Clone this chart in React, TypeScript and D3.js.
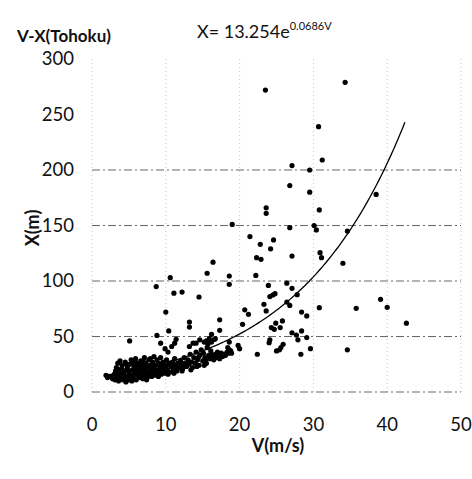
import React from 'react';
import * as d3 from 'd3';

// chart texts
const title = 'V-X(Tohoku)';
const xLabel = 'V(m/s)';
const yLabel = 'X(m)';
const xTicks = [0, 10, 20, 30, 40, 50];
const yTicks = [0, 50, 100, 150, 200, 250, 300];
const yGrid = [0, 50, 100, 150, 200];

// fit X = a * e^(bV)
const fitA = 13.254;
const fitB = 0.0686;
const fitRange = [1.9, 42.5];

// dense low-speed cluster [V, X]
const clusterPoints = [
  [1.9, 15], [2.1, 13], [2.4, 14], [2.8, 12], [3.0, 16], [3.1, 11], [3.2, 19], [3.3, 22], [3.4, 14], [3.5, 26],
  [3.6, 10], [3.7, 17], [3.8, 28], [3.9, 13], [4.0, 21], [4.1, 24], [4.2, 11], [4.3, 16], [4.4, 19], [4.5, 27],
  [4.6, 9], [4.7, 14], [4.8, 22], [4.9, 12], [5.0, 18], [5.1, 25], [5.2, 15], [5.3, 29], [5.4, 10], [5.5, 20],
  [5.6, 13], [5.7, 23], [5.8, 17], [5.9, 30], [6.0, 11], [6.1, 26], [6.2, 15], [6.3, 19], [6.4, 22], [6.5, 13],
  [6.6, 28], [6.7, 17], [6.8, 24], [6.9, 12], [7.0, 20], [7.1, 31], [7.2, 15], [7.3, 26], [7.4, 18], [7.5, 13],
  [7.6, 22], [7.7, 29], [7.8, 16], [7.9, 24], [8.0, 19], [8.1, 14], [8.2, 27], [8.3, 21], [8.4, 32], [8.5, 17],
  [8.6, 24], [8.7, 15], [8.8, 29], [8.9, 20], [9.0, 26], [9.1, 18], [9.2, 23], [9.3, 31], [9.4, 16], [9.5, 21],
  [9.6, 27], [9.7, 19], [9.8, 24], [9.9, 17], [10.0, 22], [10.1, 29], [10.2, 20], [10.4, 25], [10.5, 18], [10.7, 23],
  [10.9, 27], [11.0, 21], [11.2, 30], [11.3, 24], [11.5, 19], [11.6, 26], [11.8, 22], [12.0, 28], [12.1, 24], [12.3, 21],
  [12.5, 31], [12.6, 26], [12.8, 23], [13.0, 29], [13.1, 25], [13.3, 34], [13.5, 27], [13.6, 22], [13.8, 31], [14.0, 26],
  [14.1, 36], [14.3, 29], [14.5, 24], [14.6, 33], [14.8, 38], [15.0, 28], [15.1, 35], [15.3, 31], [15.5, 26], [15.6, 40],
  [15.8, 33], [16.0, 30], [16.1, 37], [16.3, 32], [16.5, 29], [16.7, 34], [16.9, 31], [17.1, 33], [17.3, 30], [17.5, 35],
  [17.7, 32], [17.9, 34], [18.1, 33], [18.3, 36], [18.5, 35], [18.8, 37], [3.3, 12], [3.9, 17], [4.4, 13], [5.0, 11],
  [5.6, 16], [6.2, 21], [6.8, 14], [7.4, 11], [8.0, 23], [4.7, 25], [5.5, 27], [6.3, 25], [7.0, 27], [7.9, 30],
  [4.2, 19], [5.8, 20], [6.6, 18], [9.0, 14], [10.3, 16], [11.1, 17], [12.2, 19], [13.4, 20], [14.2, 23], [15.2, 24],
  [3.6, 20], [4.0, 15], [4.9, 20], [5.3, 13], [6.0, 23], [6.4, 16], [7.2, 23], [7.6, 17], [8.3, 25], [8.6, 19],
  [9.3, 25], [9.8, 20], [10.6, 26], [11.4, 22], [12.4, 25], [13.2, 27], [14.4, 31], [15.4, 29], [16.2, 34], [17.0, 36],
];

// scattered points [V, X]
const scatterPoints = [
  [23.5, 272], [34.3, 279], [30.7, 239], [31.2, 209], [27.1, 204], [29.5, 200], [26.8, 186], [29.5, 180], [38.5, 178],
  [23.6, 166], [23.6, 161], [30.8, 164], [19.0, 151], [26.8, 148], [30.1, 150], [30.4, 146], [34.6, 145], [21.4, 140],
  [24.6, 137], [22.8, 133], [24.2, 129], [30.9, 125.5], [31.1, 121], [22.3, 121], [22.9, 119.5], [27.1, 122.5],
  [34.0, 116], [16.4, 117], [15.6, 107], [22.2, 105], [18.6, 104.5], [10.6, 103], [26.4, 98], [18.6, 97], [23.9, 96],
  [8.7, 95], [27.1, 93.4], [12.2, 90], [11.1, 89], [24.8, 88.6], [24.5, 87.4], [24.1, 86], [27.8, 87.7], [14.5, 85.6],
  [39.1, 83.5], [26.4, 81], [23.3, 79], [26.8, 78], [30.8, 76], [40.0, 76.3], [35.8, 75.4], [20.7, 74], [23.6, 73],
  [28.4, 72], [10.0, 72], [21.2, 70], [29.1, 68.5], [17.3, 65], [25.8, 64], [13.2, 63], [42.6, 62], [24.9, 62],
  [20.4, 61], [13.2, 58.5], [24.3, 58], [25.5, 58], [24.7, 56.5], [17.3, 55.6], [10.4, 55], [28.4, 55], [27.1, 53.4],
  [8.8, 51], [27.7, 51.3], [16.2, 52], [29.1, 49], [16.7, 48], [5.1, 46], [27.9, 47], [24.1, 47], [24.0, 44.4],
  [25.9, 43], [25.6, 40], [25.4, 38], [25.0, 37], [29.6, 39], [34.6, 38], [28.3, 34], [22.4, 34], [19.8, 42],
  [20.0, 39], [9.3, 44], [11.4, 47.5], [11.2, 44], [10.8, 41], [14.6, 47], [14.1, 44], [15.2, 45], [15.7, 43],
  [9.9, 39], [10.3, 36], [13.2, 41], [13.7, 44], [15.5, 46], [15.9, 48], [16.2, 45], [18.4, 40], [18.6, 45],
  [18.6, 38], [18.9, 35], [16.6, 47.5],
];

const W = 472;
const H = 479;
const font = 'Lato, "Open Sans", sans-serif';

export default function App() {
  const x = d3.scaleLinear().domain([0, 50]).range([92, 461]);
  const y = d3.scaleLinear().domain([0, 300]).range([392, 59]);

  const fitData = d3.range(fitRange[0], fitRange[1] + 0.01, 0.25).map(v => [v, fitA * Math.exp(fitB * v)]);
  const fitLine = d3.line<number[]>().x(d => x(d[0])).y(d => y(d[1])).curve(d3.curveMonotoneX)(fitData);

  const allPoints = clusterPoints.concat(scatterPoints);

  return (
    <svg width={W} height={H} style={{ position: 'absolute', left: 0, top: 0, background: '#fff' }}>
      {/* vertical light grid */}
      {xTicks.map(t => (
        <line key={'vx' + t} x1={x(t)} x2={x(t)} y1={y(300)} y2={y(0)}
          stroke="#bbb" strokeWidth={0.8} strokeDasharray="1,3" />
      ))}
      {/* horizontal dash-dot grid */}
      {yGrid.map(t => (
        <line key={'hy' + t} x1={x(0)} x2={x(50)} y1={y(t)} y2={y(t)}
          stroke="#666" strokeWidth={1} strokeDasharray="8,3,2,3" />
      ))}

      {/* tick labels */}
      {yTicks.map(t => (
        <text key={'yt' + t} x={74} y={y(t)} dy="0.35em" textAnchor="end"
          fontFamily={font} fontSize={18.5} fill="#111">{t}</text>
      ))}
      {xTicks.map(t => (
        <text key={'xt' + t} x={x(t)} y={425} dy="0.35em" textAnchor="middle"
          fontFamily={font} fontSize={18.5} fill="#111">{t}</text>
      ))}

      {/* axis titles */}
      <text x={278} y={446} dy="0.35em" textAnchor="middle" fontFamily={font} fontSize={18} fontWeight="bold" fill="#111">{xLabel}</text>
      <text transform={`translate(33,228) rotate(-90)`} dy="0.35em" textAnchor="middle" fontFamily={font} fontSize={18} fontWeight="bold" fill="#111">{yLabel}</text>

      {/* titles */}
      <text x={17} y={42} fontFamily={font} fontSize={17} fontWeight="bold" fill="#111">{title}</text>
      <text x={197} y={38} fontFamily={font} fontSize={18} fill="#111">
        {`X= ${fitA}e`}
        <tspan dy={-8} fontSize={11}>{`${fitB}V`}</tspan>
      </text>

      {/* points */}
      {allPoints.map((p, i) => (
        <circle key={i} cx={x(p[0])} cy={y(p[1])} r={2.6} fill="#000" />
      ))}

      {/* fit curve */}
      <path d={fitLine || ''} fill="none" stroke="#000" strokeWidth={1.3} />
    </svg>
  );
}
